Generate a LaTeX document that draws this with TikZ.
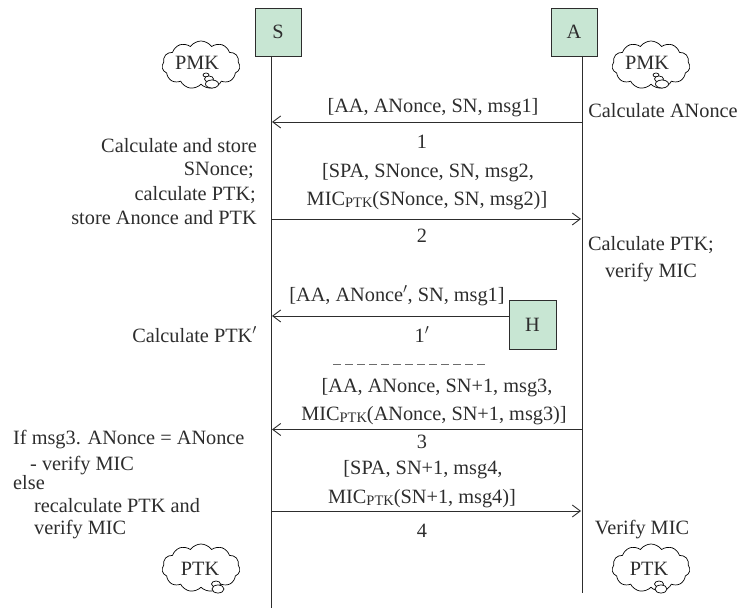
\documentclass[tikz,border=0pt]{standalone}
\usepackage{fontspec}
\usepackage{xcolor}
\setmainfont{Liberation Serif}
\usetikzlibrary{shapes.geometric, shapes.symbols, arrows.meta, positioning}
\definecolor{partygreen}{RGB}{200,230,211}
\definecolor{inkgray}{RGB}{45,45,45}
\newcommand{\ptk}{\raisebox{-2pt}{\fontsize{14.5}{16}\selectfont PTK}}

\begin{document}
\begin{tikzpicture}[
  x=1pt, y=-1pt,
  party/.style={rectangle, draw=inkgray, fill=partygreen, line width=0.9pt,
                minimum width=46pt, minimum height=48pt, inner sep=0pt,
                font=\fontsize{20.3}{22}\selectfont, text=inkgray},
  keycloud/.style={cloud, cloud puffs=11, cloud puff arc=110, aspect=1.6, draw=black, line width=0.7pt,
                   minimum width=78pt, minimum height=48pt, inner sep=0pt},
  bubble/.style={ellipse, draw=black, line width=0.7pt, fill=white, inner sep=0pt},
  lifeline/.style={draw=inkgray, line width=0.9pt},
  msg/.style={-{Straight Barb[length=8pt,width=12pt]}, draw=inkgray, line width=0.9pt},
  txt/.style={font=\fontsize{20.3}{22}\selectfont, text=inkgray, inner sep=0pt,
              text height=17pt, text depth=2pt},
]
\useasboundingbox (0,0) rectangle (740,609);

% parties
\node[party] (partyS) at (278,32) {S};
\node[party] (partyA) at (574,32) {A};
\node[party, minimum width=47pt, minimum height=49pt] (partyH) at (532.5,324.5) {H};

% lifelines
\coordinate (topS) at (271,56);
\coordinate (topA) at (582,56);
\coordinate (endS) at (271,608);
\coordinate (endA) at (582,593);
\draw[lifeline] (topS) -- (endS);
\draw[lifeline] (topA) -- (endA);

% messages
\coordinate (s1) at (272,122);  \coordinate (a1) at (582,122);
\coordinate (s2) at (271,219);  \coordinate (a2) at (581,219);
\coordinate (s5) at (272,316);
\coordinate (s3) at (272,429.5); \coordinate (a3) at (582,429.5);
\coordinate (s4) at (271,511);  \coordinate (a4) at (581,511);
\draw[msg] (a1) -- (s1);
\draw[msg] (s2) -- (a2);
\draw[msg] (partyH.west |- s5) -- (s5);
\draw[msg] (a3) -- (s3);
\draw[msg] (s4) -- (a4);

\node[txt] (m1) at (433,105) {[AA, ANonce, SN, msg1]};
\node[txt] (n1) at (422,141) {1};
\node[txt] (m2a) at (428,170) {[SPA, SNonce, SN, msg2,};
\node[txt] (m2b) at (427,198) {MIC\ptk(SNonce, SN, msg2)]};
\node[txt] (n2) at (422,235) {2};
\node[txt] (m5) at (397,294) {[AA, ANonce$'$, SN, msg1]};
\node[txt] (n5) at (422,335) {1$'$};
\node[txt] (m3a) at (437,385) {[AA, ANonce, SN+1, msg3,};
\node[txt] (m3b) at (434,413) {MIC\ptk(ANonce, SN+1, msg3)]};
\node[txt] (n3) at (422,441) {3};
\node[txt] (m4a) at (423,467) {[SPA, SN+1, msg4,};
\node[txt] (m4b) at (422,496) {MIC\ptk(SN+1, msg4)]};
\node[txt] (n4) at (422,530) {4};

% separator
\coordinate (sepL) at (333,364);
\coordinate (sepR) at (489,364);
\draw[draw=inkgray!70, line width=0.9pt, dash pattern=on 7.5pt off 4.5pt] (sepL) -- (sepR);

% notes next to S
\node[txt, anchor=east] (noteS1a) at (257,145) {Calculate and store};
\node[txt, anchor=east] (noteS1b) at (254,168) {SNonce;};
\node[txt, anchor=east] (noteS1c) at (256,193) {calculate PTK;};
\node[txt, anchor=east] (noteS1d) at (257,217) {store Anonce and PTK};
\node[txt, anchor=east] (noteS2) at (257,335) {Calculate PTK$'$};
\node[txt, anchor=west] (noteS3a) at (13,437) {If msg3. ANonce = ANonce};
\node[txt, anchor=west] (noteS3b) at (30,463) {- verify MIC};
\node[txt, anchor=west] (noteS3c) at (13,482) {else};
\node[txt, anchor=west] (noteS3d) at (34,505) {recalculate PTK and};
\node[txt, anchor=west] (noteS3e) at (34,527) {verify MIC};

% notes next to A
\node[txt] (noteA1) at (663,110) {Calculate ANonce};
\node[txt] (noteA2a) at (651,243) {Calculate PTK;};
\node[txt] (noteA2b) at (651,270) {verify MIC};
\node[txt] (noteA3) at (642,527) {Verify MIC};

% key clouds
\node[keycloud] (cloudS1) at (201,65) {};
\node[keycloud] (cloudA1) at (651,65) {};
\node[keycloud] (cloudS2) at (201,568) {};
\node[keycloud] (cloudA2) at (651,568) {};
\node[txt] (keyS1) at (197,62) {PMK};
\node[txt] (keyA1) at (647,62) {PMK};
\node[txt] (keyS2) at (200,568) {PTK};
\node[txt] (keyA2) at (649,568) {PTK};
\foreach \name/\dx/\dy in {cloudS1/0/0, cloudA1/450/0} {
  \node[bubble, minimum width=6pt, minimum height=4pt] (\name-a) at (206+\dx,75+\dy) {};
  \node[bubble, minimum width=9pt, minimum height=6pt] (\name-b) at (209+\dx,79+\dy) {};
  \node[bubble, minimum width=13pt, minimum height=8pt] (\name-c) at (212+\dx,84+\dy) {};
}
\foreach \name/\dx in {cloudS2/0, cloudA2/443} {
  \node[bubble, minimum width=9pt, minimum height=6pt] (\name-a) at (216+\dx,584) {};
  \node[bubble, minimum width=12pt, minimum height=8pt] (\name-b) at (218+\dx,589) {};
}
\end{tikzpicture}
\end{document}
